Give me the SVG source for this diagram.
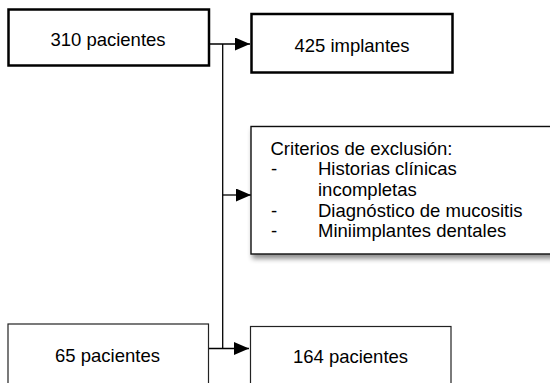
<svg xmlns="http://www.w3.org/2000/svg" width="550" height="383" viewBox="0 0 550 383">
<defs>
<style>
text{font-family:"Liberation Sans",Arial,sans-serif;font-size:18.5px;fill:#000}
.c{text-anchor:middle}
.thick{fill:#fff;stroke:#000;stroke-width:2.5}
.thin{fill:#fff;stroke:#222;stroke-width:1.2}
.ln{stroke:#000;stroke-width:1.3;fill:none}
</style>
<marker id="ah" markerWidth="15" markerHeight="13" refX="15" refY="6.5" orient="auto" markerUnits="userSpaceOnUse">
<path d="M0,0 L15,6.5 L0,13 Z" fill="#000"/>
</marker>
<filter id="sh" x="-10%" y="-10%" width="130%" height="140%">
<feDropShadow dx="2" dy="4" stdDeviation="2.5" flood-color="#000" flood-opacity="0.45"/>
</filter>
</defs>
<g id="connectors">
<line class="ln" x1="210" y1="44" x2="250" y2="44" marker-end="url(#ah)"/>
<line class="ln" x1="222.7" y1="44" x2="222.7" y2="348.5"/>
<line class="ln" x1="222.7" y1="195" x2="251" y2="195" marker-end="url(#ah)"/>
<line class="ln" x1="209" y1="348.5" x2="249" y2="348.5" marker-end="url(#ah)"/>
</g>
<g id="n310">
<rect class="thick" x="8.5" y="9.5" width="200.5" height="56"/>
<text class="c" x="108" y="45.7">310 pacientes</text>
</g>
<g id="n425">
<rect class="thick" x="251.5" y="14" width="201" height="58.5"/>
<text class="c" x="352" y="51.7">425 implantes</text>
</g>
<g id="nexcl">
<rect x="251" y="126.5" width="305" height="127.5" fill="#fff" stroke="#111" stroke-width="1.4" filter="url(#sh)"/>
<text x="270.5" y="154.7">Criterios de exclusión:</text>
<text x="271" y="175.3">-</text>
<text x="318" y="175.3">Historias clínicas</text>
<text x="318" y="196">incompletas</text>
<text x="271" y="216.6">-</text>
<text x="318" y="216.6">Diagnóstico de mucositis</text>
<text x="271" y="237.3">-</text>
<text x="318" y="237.3">Miniimplantes dentales</text>
</g>
<g id="n65">
<rect class="thin" x="8" y="324" width="200.5" height="70"/>
<text class="c" x="107.5" y="361.7">65 pacientes</text>
</g>
<g id="n164">
<rect class="thin" x="250.5" y="326.5" width="200.5" height="70"/>
<text class="c" x="350.5" y="362.7">164 pacientes</text>
</g>
</svg>
